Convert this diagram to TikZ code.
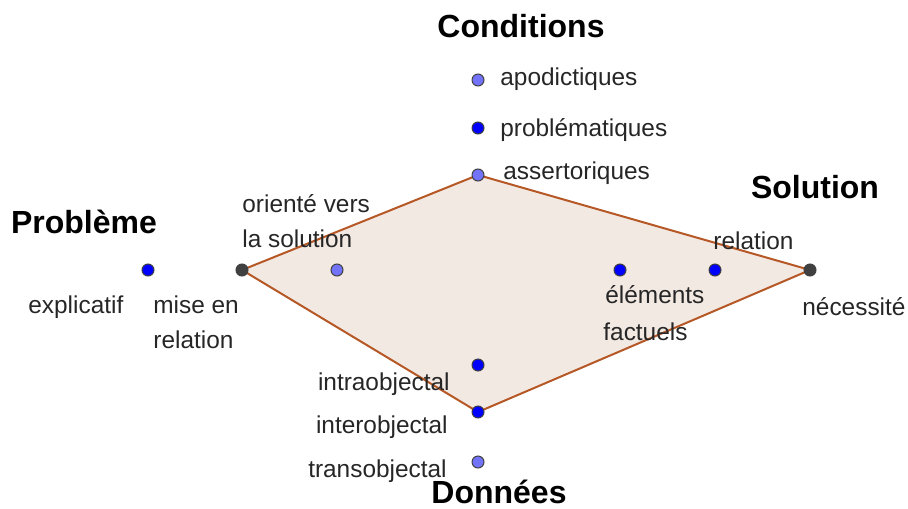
\documentclass[tikz,border=0pt]{standalone}
\usepackage{fontspec}
\setmainfont{Liberation Sans}
\usetikzlibrary{backgrounds}
\definecolor{ptblue}{RGB}{0,0,255}
\definecolor{ptlight}{RGB}{115,115,250}
\definecolor{ptdark}{RGB}{64,64,64}
\definecolor{edgebrown}{RGB}{182,88,38}
\definecolor{fillbrown}{RGB}{243,233,227}

\begin{document}
\begin{tikzpicture}[x=0.5pt, y=-0.5pt,
  pt/.style={circle, draw=black!75, line width=0.5pt, inner sep=0pt, minimum size=6pt},
  ptb/.style={pt, fill=ptblue},
  ptl/.style={pt, fill=ptlight},
  ptd/.style={pt, fill=ptdark},
  lbl/.style={font=\fontsize{12.2}{14}\selectfont, text=black!85, inner sep=0pt, anchor=base west},
  lblr/.style={lbl, anchor=base east},
  head/.style={font=\fontsize{16}{19}\bfseries, inner sep=0pt, anchor=base}
]
\useasboundingbox (0,0) rectangle (908,508);
% points
\node[ptl] (apo) at (478,80)  {};
\node[ptb] (pro) at (478,128) {};
\node[ptl] (ass) at (478,175) {};
\node[ptb] (exp) at (148,270) {};
\node[ptd] (mer) at (242,270) {};
\node[ptl] (ori) at (337,270) {};
\node[ptb] (ele) at (620,270) {};
\node[ptb] (rel) at (715,270) {};
\node[ptd] (nec) at (810,270) {};
\node[ptb] (intra) at (478,365) {};
\node[ptb] (inter) at (478,412) {};
\node[ptl] (trans) at (478,462) {};
% polygon
\begin{scope}[on background layer]
\draw[edgebrown, fill=fillbrown, line width=1pt, line join=round]
  (ass.center) -- (mer.center) -- (inter.center) -- (nec.center) -- cycle;
\end{scope}
% headings
\node[head] (cond) at (521,38)  {Conditions};
\node[head] (sol)  at (815,198) {Solution};
\node[head] (prb)  at (84,233)  {Problème};
\node[head] (don)  at (499,503) {Données};
% labels
\node[lbl] (tapo) at (500,85)  {apodictiques};
\node[lbl] (tpro) at (500,136) {problématiques};
\node[lbl] (tass) at (503,179) {assertoriques};
\node[lbl] (tori1) at (242,212) {orienté vers};
\node[lbl] (tori2) at (242,247) {la solution};
\node[lbl] (texp) at (28,313)  {explicatif};
\node[lbl] (tmer1) at (153,313) {mise en};
\node[lbl] (tmer2) at (153,348) {relation};
\node[lbl] (trel) at (713,249) {relation};
\node[lbl] (tele1) at (605,303) {éléments};
\node[lbl] (tele2) at (603,340) {factuels};
\node[lbl] (tnec) at (802,315) {nécessité};
\node[lblr] (tintra) at (450,390) {intraobjectal};
\node[lblr] (tinter) at (448,433) {interobjectal};
\node[lblr] (ttrans) at (447,477) {transobjectal};
\end{tikzpicture}
\end{document}
